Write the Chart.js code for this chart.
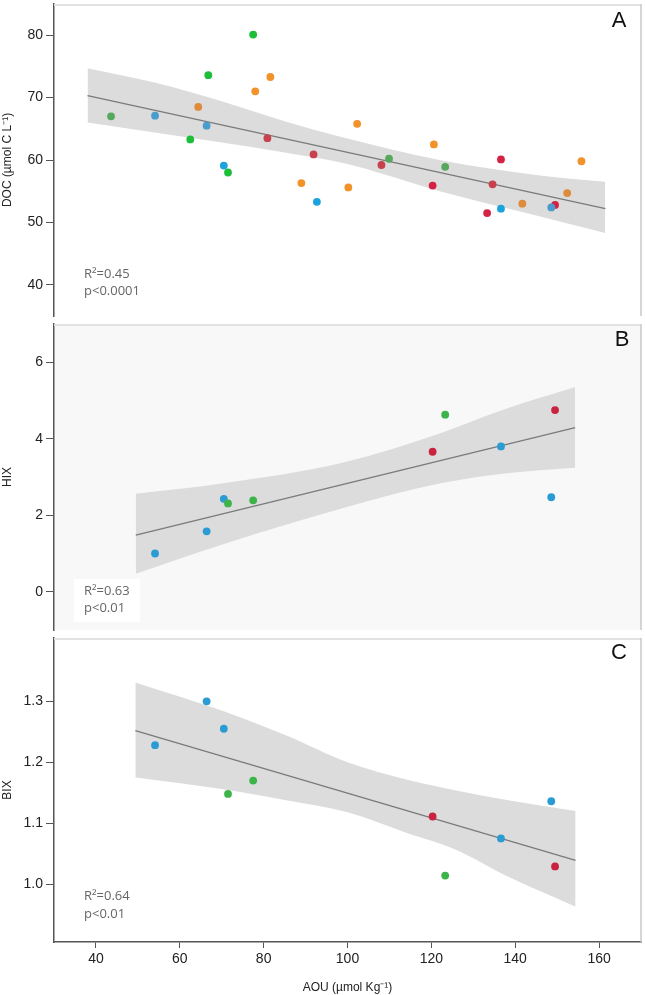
<!DOCTYPE html>
<html>
<head>
<meta charset="utf-8">
<script src="https://cdn.jsdelivr.net/npm/chart.js@4.4.0/dist/chart.umd.min.js"></script>
<style>
  html, body { margin: 0; padding: 0; background: #fff; }
  #wrap { position: relative; width: 645px; height: 995px; }
  .painel { position: absolute; left: 0; width: 645px; }
  #pA { top: 0; height: 320px; }
  #pB { top: 320px; height: 314px; }
  #pC { top: 634px; height: 361px; }
</style>
</head>
<body>
<div id="wrap">
  <div class="painel" id="pA"><canvas id="chartA"></canvas></div>
  <div class="painel" id="pB"><canvas id="chartB"></canvas></div>
  <div class="painel" id="pC"><canvas id="chartC"></canvas></div>
</div>
<script>
// eixo x comum
const aouTicks = [40, 60, 80, 100, 120, 140, 160];

// painel A - DOC
const aouA = [43.6, 54.1, 64.4, 66.4, 62.5, 66.8, 77.5, 78.0, 81.6, 70.5, 71.5, 80.9, 91.9, 89.0, 92.7, 102.3, 100.2, 109.9, 108.1, 120.6, 120.3, 123.3, 136.6, 134.6, 133.3, 136.6, 141.7, 149.5, 148.6, 152.4, 155.8];
const docA = [67.0, 67.1, 68.5, 65.5, 63.3, 73.6, 80.1, 71.0, 73.3, 59.1, 58.0, 63.5, 60.9, 56.3, 53.3, 65.8, 55.6, 60.2, 59.2, 62.5, 55.9, 58.9, 60.1, 56.1, 51.5, 52.2, 53.0, 52.8, 52.4, 54.7, 59.8];
const grupoA = ['g2', 'b2', 'o2', 'b2', 'g1', 'g1', 'g1', 'o1', 'o1', 'b1', 'g1', 'r2', 'r2', 'o1', 'b1', 'o1', 'o1', 'g2', 'r2', 'o1', 'r1', 'g2', 'r1', 'r2', 'r1', 'b1', 'o2', 'r1', 'b2', 'o2', 'o1'];
const docTicks = [40, 50, 60, 70, 80];
const retaAx = [38, 161.5];
const retaAy = [70.3, 52.2];
const faixaAx = [38, 54, 70, 85, 99, 122, 145, 161.5];
const faixaAsup = [74.7, 72.4, 69.4, 66.2, 63.6, 60.0, 57.6, 56.5];
const faixaAinf = [66.0, 64.4, 62.8, 61.2, 59.5, 55.0, 51.1, 48.3];

// paineis B e C - HIX e BIX
const aouBC = [54.1, 66.4, 70.5, 71.5, 77.5, 120.3, 123.3, 136.6, 148.6, 149.5];
const grupoBC = ['b', 'b', 'b', 'g', 'g', 'r', 'g', 'b', 'b', 'r'];
const hix = [1.00, 1.58, 2.43, 2.31, 2.39, 3.66, 4.63, 3.80, 2.47, 4.75];
const hixTicks = [0, 2, 4, 6];
const retaBx = [49.5, 154.3];
const retaBy = [1.48, 4.29];
const faixaBx = [49.5, 70, 99, 122, 137.5, 154.3];
const faixaBsup = [2.56, 2.83, 3.38, 4.14, 4.77, 5.35];
const faixaBinf = [0.47, 1.23, 2.19, 2.83, 3.09, 3.24];

const bix = [1.228, 1.300, 1.255, 1.148, 1.170, 1.111, 1.014, 1.075, 1.136, 1.029];
const bixTicks = [1.0, 1.1, 1.2, 1.3];
const retaCx = [49.4, 154.4];
const retaCy = [1.252, 1.039];
const faixaCx = [49.4, 70, 85, 100, 115, 125, 139, 154.4];
const faixaCsup = [1.331, 1.285, 1.245, 1.200, 1.170, 1.155, 1.137, 1.120];
const faixaCinf = [1.175, 1.156, 1.138, 1.118, 1.082, 1.059, 1.010, 0.963];

const cores = {
    g1: '#1dbf3a', g2: '#56a85c',
    b1: '#1ca3de', b2: '#4a9ccc',
    o1: '#f2922a', o2: '#de8b3e',
    r1: '#d42144', r2: '#c7424c',
    b: '#2b9bd3', g: '#3db449', r: '#c92340'
};

const fonte = "'Liberation Sans', Arial, sans-serif";

function pares(xs, ys) {
    return xs.map((x, i) => ({ x: x, y: ys[i] }));
}

function datasets(xs, ys, grupos, fx, fsup, finf, rx, ry) {
    return [{
        type: 'scatter',
        data: pares(xs, ys),
        backgroundColor: grupos.map(g => cores[g]),
        pointRadius: 3.9,
        borderWidth: 0,
        order: 1
    }, {
        type: 'line',
        data: pares(rx, ry),
        borderColor: '#7a7a7a',
        borderWidth: 1.3,
        pointRadius: 0,
        fill: false,
        order: 2
    }, {
        type: 'line',
        data: pares(fx, fsup),
        borderWidth: 0,
        borderColor: 'rgba(0,0,0,0)',
        backgroundColor: '#dcdcdc',
        pointRadius: 0,
        cubicInterpolationMode: 'monotone',
        fill: '+1',
        order: 3
    }, {
        type: 'line',
        data: pares(fx, finf),
        borderWidth: 0,
        borderColor: 'rgba(0,0,0,0)',
        pointRadius: 0,
        cubicInterpolationMode: 'monotone',
        fill: false,
        order: 4
    }];
}

function eixoX(mostrar) {
    return {
        type: 'linear',
        min: 30,
        max: 170,
        display: mostrar,
        afterBuildTicks: s => { s.ticks = aouTicks.map(v => ({ value: v })); },
        afterFit: s => {
            if (mostrar) s.height = 53;
            s.paddingLeft = 0;
            s.paddingRight = 0;
        },
        grid: { drawOnChartArea: false, tickLength: 6, color: '#555' },
        border: { color: '#555', width: 1.5 },
        ticks: { padding: 3, color: '#222', font: { family: fonte, size: 14 } },
        title: { display: true, text: 'AOU (µmol Kg⁻¹)', color: '#222', font: { family: fonte, size: 12 }, padding: 0 }
    };
}

function eixoY(min, max, ticks, titulo, casas) {
    return {
        type: 'linear',
        min: min,
        max: max,
        afterBuildTicks: s => { s.ticks = ticks.map(v => ({ value: v })); },
        afterFit: s => { s.width = 54; s.paddingTop = 0; s.paddingBottom = 0; },
        grid: { drawOnChartArea: false, tickLength: 8, color: '#555' },
        border: { color: '#555', width: 1.5 },
        ticks: { padding: 3, color: '#222', font: { family: fonte, size: 14 }, callback: v => v.toFixed(casas) },
        title: { display: true, text: titulo, color: '#222', font: { family: fonte, size: 12 }, padding: 0 }
    };
}

const painelPlugin = {
    id: 'painel',
    beforeDraw(chart, args, opts) {
        const { ctx, chartArea: a } = chart;
        ctx.save();
        ctx.fillStyle = opts.fundo;
        ctx.fillRect(a.left, a.top, a.right - a.left, a.bottom - a.top);
        if (opts.caixa) {
            ctx.fillStyle = '#fff';
            ctx.fillRect(a.left + 20, a.bottom - 51, 66, 43);
        }
        ctx.restore();
    },
    afterDraw(chart, args, opts) {
        const { ctx, chartArea: a } = chart;
        ctx.save();
        ctx.strokeStyle = '#e2e2e2';
        ctx.lineWidth = 2;
        ctx.beginPath();
        ctx.moveTo(a.left, a.top + 1);
        ctx.lineTo(a.right, a.top + 1);
        ctx.stroke();
        ctx.strokeStyle = '#c8c8c8';
        ctx.lineWidth = 1.5;
        ctx.beginPath();
        ctx.moveTo(a.right, a.top);
        ctx.lineTo(a.right, a.bottom);
        ctx.stroke();

        ctx.fillStyle = '#666';
        ctx.font = "13px 'Open Sans', sans-serif";
        ctx.textAlign = 'left';
        ctx.textBaseline = 'middle';
        ctx.fillText(opts.r2, a.left + 30, a.bottom - opts.linhas[0]);
        ctx.fillText(opts.p, a.left + 30, a.bottom - opts.linhas[1]);

        ctx.fillStyle = '#111';
        ctx.font = '22px ' + fonte;
        ctx.textAlign = 'center';
        ctx.fillText(opts.letra, a.right - opts.letraX, a.top + opts.letraY);
        ctx.restore();
    }
};

function opcoes(x, y, painel) {
    return {
        responsive: true,
        maintainAspectRatio: false,
        animation: false,
        devicePixelRatio: 1,
        layout: { padding: { left: 0, right: 2, top: 0, bottom: 0 } },
        scales: { x: x, y: y },
        plugins: {
            legend: { display: false },
            tooltip: { enabled: false },
            painel: painel
        }
    };
}

new Chart('chartA', {
    data: { datasets: datasets(aouA, docA, grupoA, faixaAx, faixaAsup, faixaAinf, retaAx, retaAy) },
    options: opcoes(eixoX(false), eixoY(35, 85, docTicks, 'DOC (µmol C L⁻¹)', 0), {
        fundo: '#fff', caixa: false, r2: 'R²=0.45', p: 'p<0.0001', linhas: [41.7, 24.3], letra: 'A', letraX: 22, letraY: 17.3
    }),
    plugins: [painelPlugin]
});

new Chart('chartB', {
    data: { datasets: datasets(aouBC, hix, grupoBC, faixaBx, faixaBsup, faixaBinf, retaBx, retaBy) },
    options: opcoes(eixoX(false), eixoY(-1, 7, hixTicks, 'HIX', 0), {
        fundo: '#f8f8f8', caixa: true, r2: 'R²=0.63', p: 'p<0.01', linhas: [39, 21.7], letra: 'B', letraX: 19, letraY: 16
    }),
    plugins: [painelPlugin]
});

new Chart('chartC', {
    data: { datasets: datasets(aouBC, bix, grupoBC, faixaCx, faixaCsup, faixaCinf, retaCx, retaCy) },
    options: opcoes(eixoX(true), eixoY(0.905, 1.404, bixTicks, 'BIX', 1), {
        fundo: '#fff', caixa: false, r2: 'R²=0.64', p: 'p<0.01', linhas: [45.3, 28], letra: 'C', letraX: 22, letraY: 15.3
    }),
    plugins: [painelPlugin]
});
</script>
</body>
</html>
